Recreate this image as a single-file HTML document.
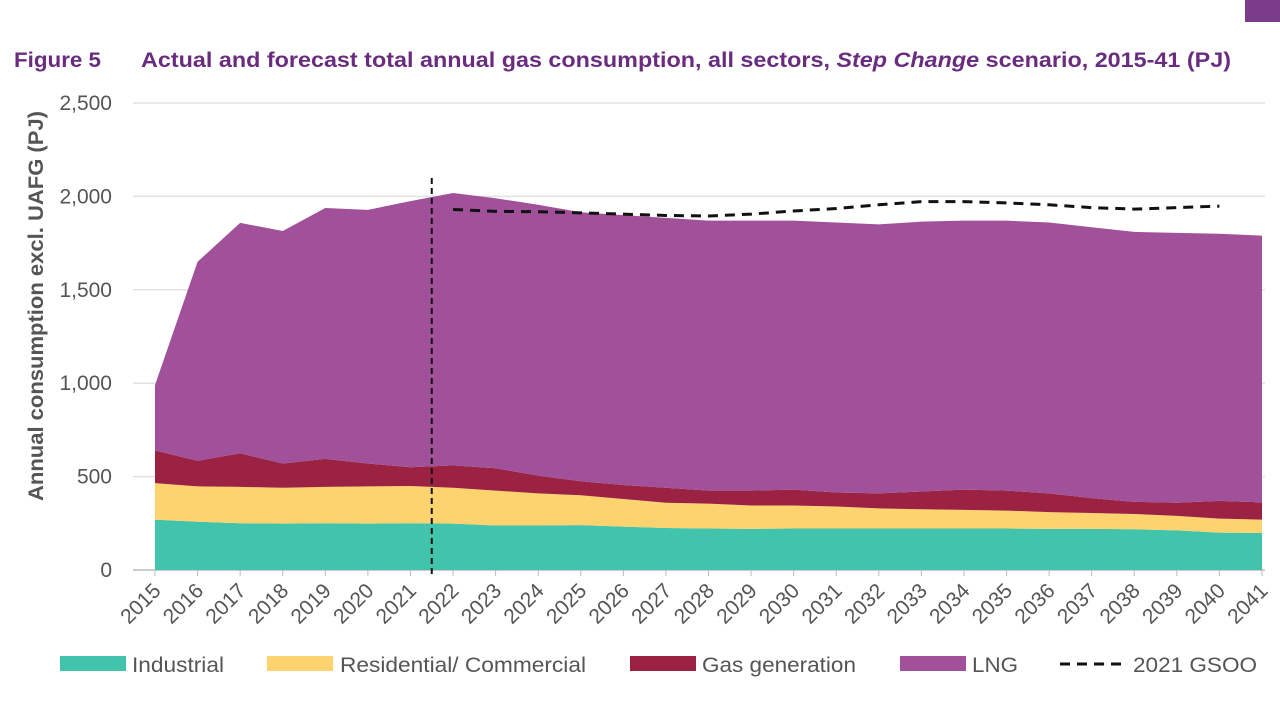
<!DOCTYPE html>
<html><head><meta charset="utf-8"><style>
body{margin:0;background:#fff;width:1280px;height:720px;overflow:hidden;font-family:"Liberation Sans",sans-serif}
svg{position:absolute;left:0;top:0}
</style></head><body>
<svg id="chart" width="1280" height="720">
<rect x="1245" y="0" width="35" height="22" fill="#7a3b88"/>
<text x="14" y="67" font-size="21" font-weight="bold" fill="#6a2c7e" textLength="87" lengthAdjust="spacingAndGlyphs">Figure 5</text>
<text x="141" y="67" font-size="21" font-weight="bold" fill="#6a2c7e" textLength="1090" lengthAdjust="spacingAndGlyphs">Actual and forecast total annual gas consumption, all sectors, <tspan font-style="italic">Step Change</tspan> scenario, 2015-41 (PJ)</text>
<text transform="translate(43,306) rotate(-90)" text-anchor="middle" font-size="21" font-weight="bold" fill="#555" textLength="390" lengthAdjust="spacingAndGlyphs">Annual consumption excl. UAFG (PJ)</text>
<g id="grid"></g><g id="areas"></g><g id="lines"></g><g id="axes"></g><g id="legend"></g>
</svg>
<script>
const years=[2015,2016,2017,2018,2019,2020,2021,2022,2023,2024,2025,2026,2027,2028,2029,2030,2031,2032,2033,2034,2035,2036,2037,2038,2039,2040,2041];
const industrial=[270,258,250,248,250,248,250,248,238,238,240,232,225,222,220,222,222,222,222,222,222,220,220,218,212,200,198];
const residential=[195,190,195,192,195,200,200,192,187,172,160,148,135,133,125,123,118,108,103,100,96,90,85,82,78,75,72];
const gasGen=[175,137,180,130,150,122,100,120,120,95,75,75,80,70,80,85,75,80,95,108,107,100,80,65,70,95,92];
const lng=[350,1065,1233,1245,1343,1358,1425,1458,1445,1450,1440,1445,1445,1445,1445,1440,1445,1440,1445,1440,1445,1450,1450,1445,1445,1430,1428];
const gsooYears=[2022,2023,2024,2025,2026,2027,2028,2029,2030,2031,2032,2033,2034,2035,2036,2037,2038,2039,2040];
const gsoo=[1930,1920,1918,1912,1905,1898,1895,1905,1922,1935,1955,1972,1972,1965,1955,1940,1932,1940,1948];
const yTicks=[0,500,1000,1500,2000,2500];
const yTickLabels=["0","500","1,000","1,500","2,000","2,500"];
const divider=2021.5;

const NS="http://www.w3.org/2000/svg";
const X=y=>155+(y-2015)*(1262-155)/26;
const Y=v=>570-v*(570-103)/2500;
function mk(tag,attrs,parent){const e=document.createElementNS(NS,tag);for(const k in attrs)e.setAttribute(k,attrs[k]);document.getElementById(parent).appendChild(e);return e;}

yTicks.forEach((t,i)=>{
  const g=mk('line',{x1:133,x2:1265,y1:Y(t),y2:Y(t),stroke:t===0?'#bbb':'#e2e2e2','stroke-width':1.5},'grid');
  
  
  const l=mk('text',{x:112,y:Y(t)+7,'text-anchor':'end','font-size':21,fill:'#555'},'axes');
  l.textContent=yTickLabels[i];
  
  
});
years.forEach(yr=>{
  const x=X(yr);
  const tk=mk('line',{x1:x,x2:x,y1:570,y2:576,stroke:'#bbb'},'axes');
  
  
  const t=mk('text',{transform:`translate(${x+7},${592}) rotate(-45)`,'text-anchor':'end','font-size':21,fill:'#555'},'axes');
  t.textContent=yr;
  
  
});

const series=[["industrial",industrial,"#41c3ac"],["residential-commercial",residential,"#fdd36f"],["gas-generation",gasGen,"#9b2242"],["lng",lng,"#a0519a"]];
let base=years.map(()=>0);
series.forEach(([name,vals,col])=>{
  const top=base.map((b,i)=>b+vals[i]);
  let d='M'+years.map((y,i)=>X(y)+','+Y(top[i])).join('L');
  for(let i=years.length-1;i>=0;i--)d+='L'+X(years[i])+','+Y(base[i]);
  const p=mk('path',{d:d+'Z',fill:col},'areas');
  
  
  base=top;
});
const gl=mk('path',{d:'M'+gsooYears.map((y,i)=>X(y)+','+Y(gsoo[i])).join('L'),fill:'none',stroke:'#111','stroke-width':3,'stroke-dasharray':'10,7'},'lines');


const dv=mk('line',{x1:X(divider),x2:X(divider),y1:178,y2:578,stroke:'#111','stroke-width':2,'stroke-dasharray':'6,4'},'lines');



const leg=[["Industrial","#41c3ac",60,132,92],["Residential/ Commercial","#fdd36f",267,340,246],["Gas generation","#9b2242",630,702,154],["LNG","#a0519a",900,972,46]];
leg.forEach(([lab,col,sx,tx,w])=>{
  const r=mk('rect',{x:sx,y:656,width:66,height:15,fill:col},'legend');
  
  
  const t=mk('text',{x:tx,y:672,'font-size':21,fill:'#555',textLength:w,lengthAdjust:'spacingAndGlyphs'},'legend');
  t.textContent=lab;
  
  
});
const ll=mk('line',{x1:1060,x2:1128,y1:664,y2:664,stroke:'#111','stroke-width':3,'stroke-dasharray':'10,7'},'legend');


const lt=mk('text',{x:1133,y:672,'font-size':21,fill:'#555',textLength:124,lengthAdjust:'spacingAndGlyphs'},'legend');
lt.textContent='2021 GSOO';


</script>
</body></html>
